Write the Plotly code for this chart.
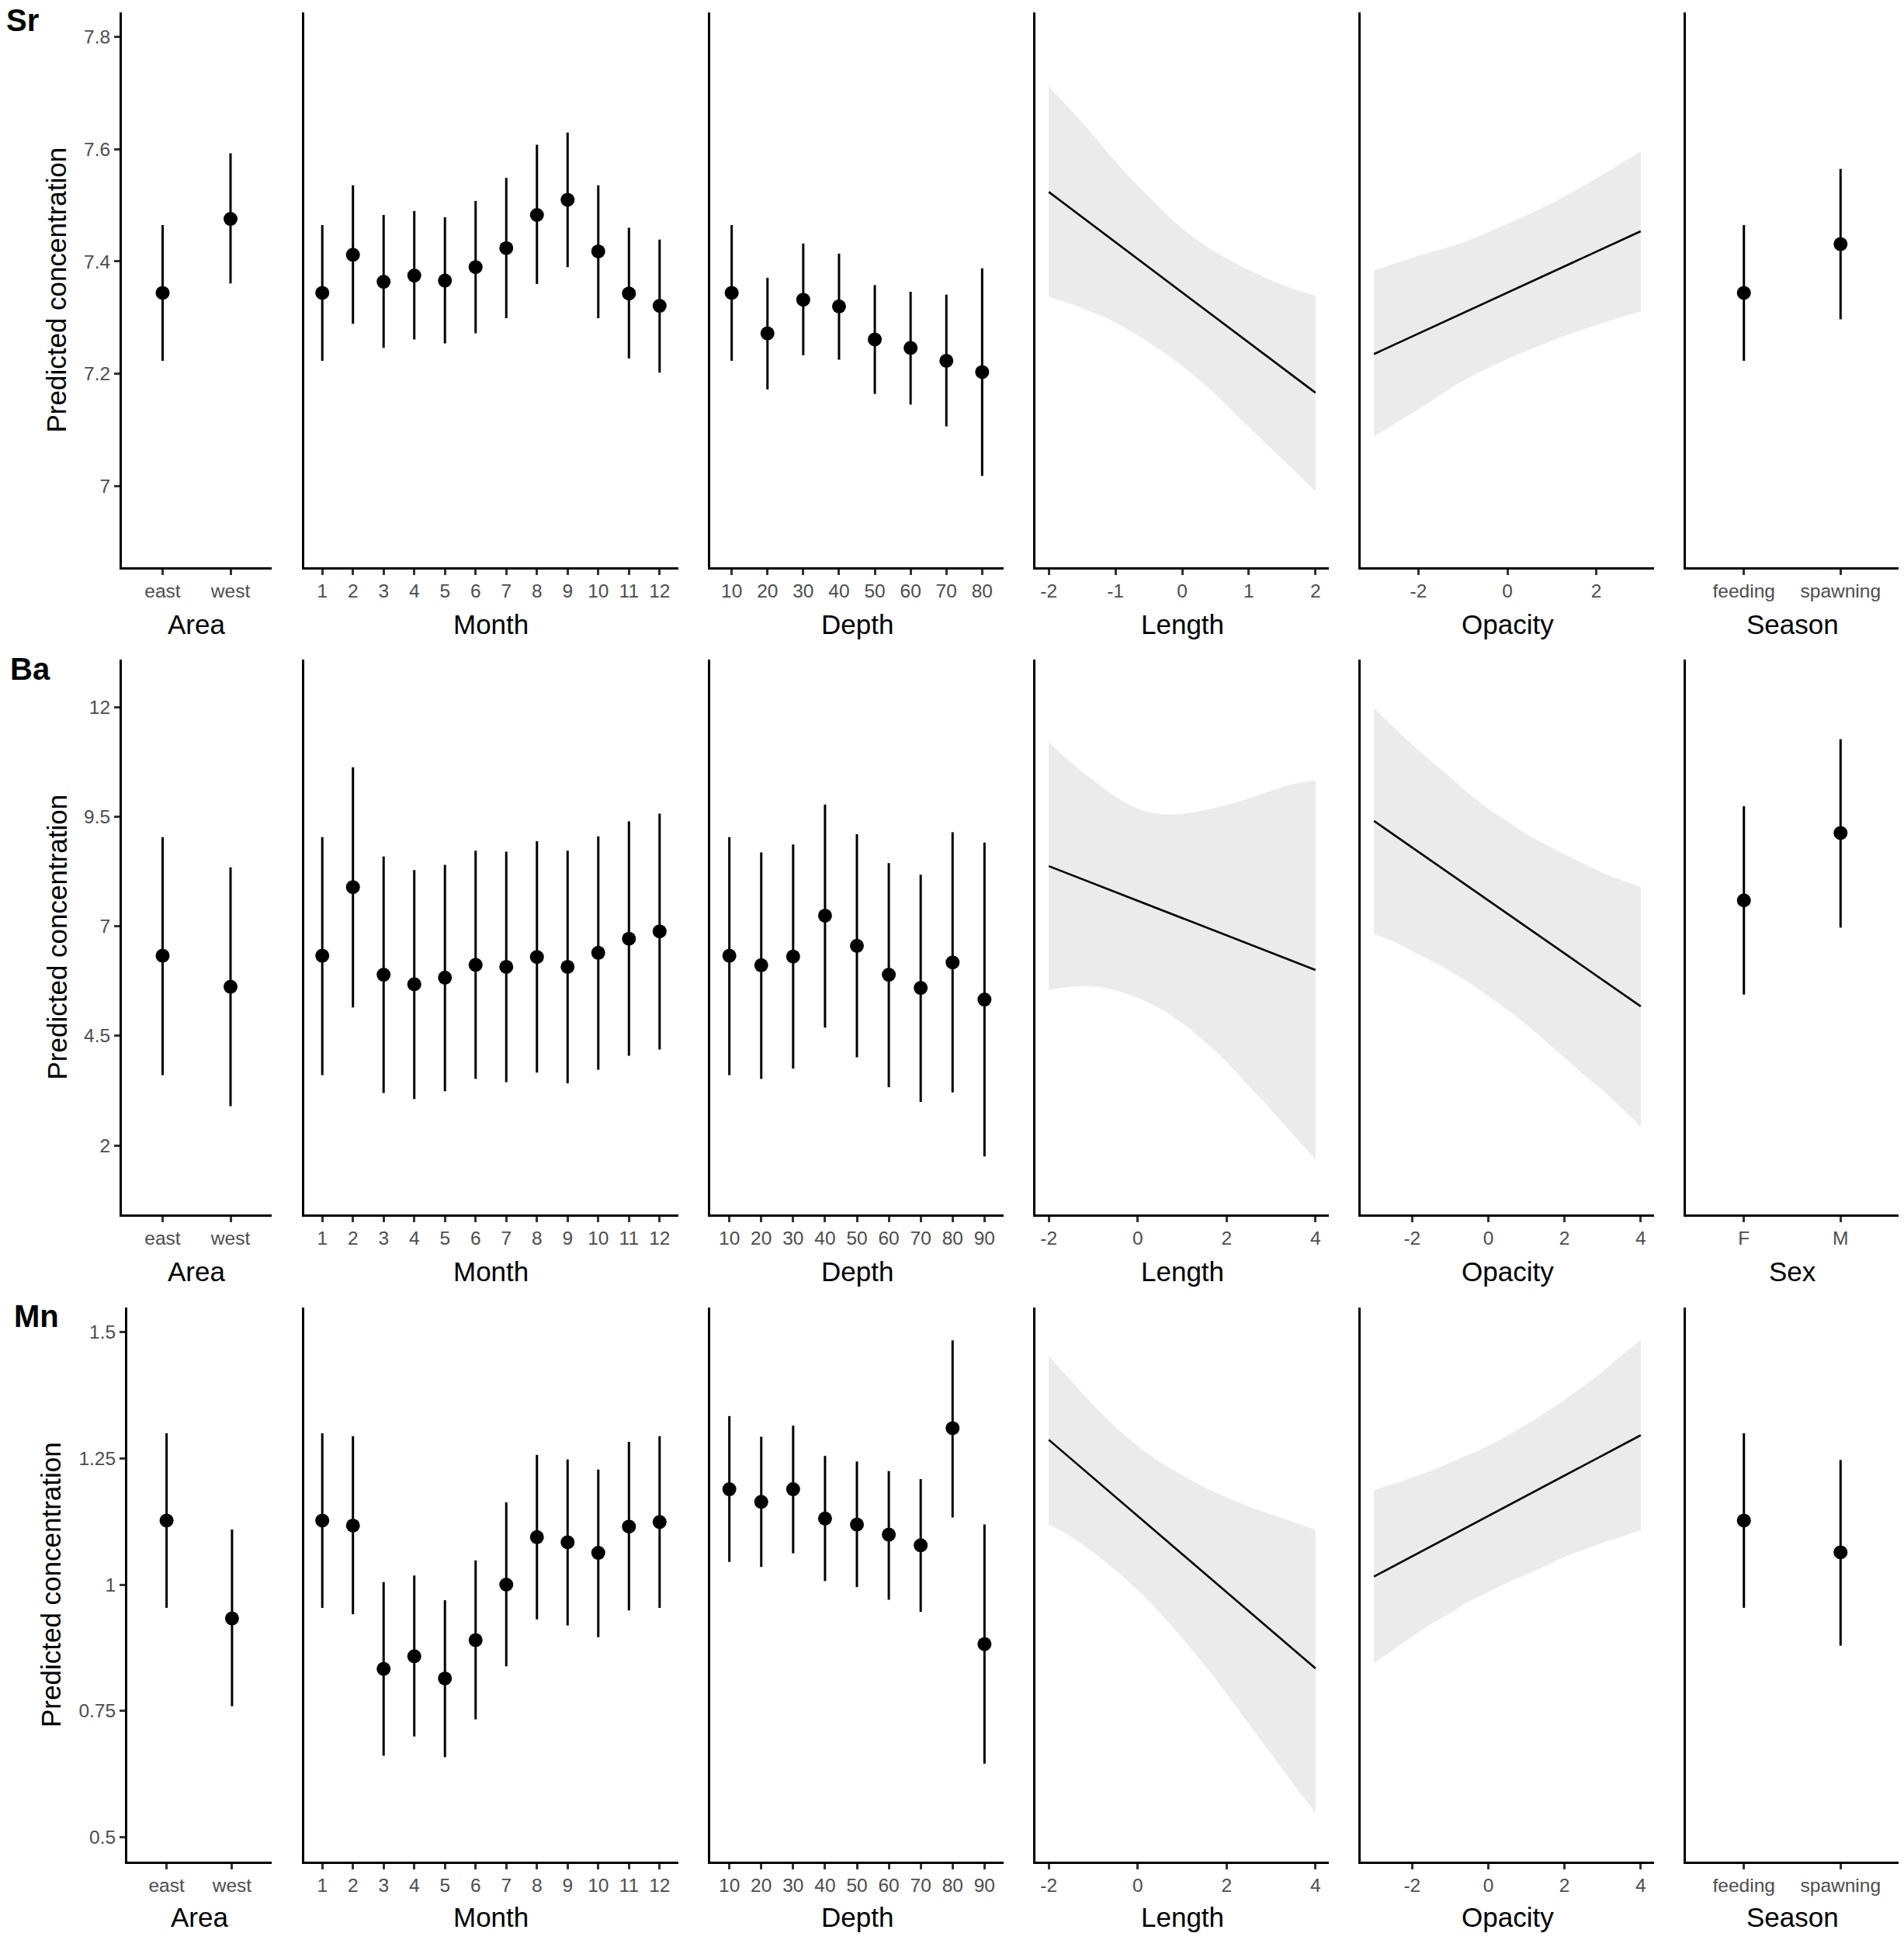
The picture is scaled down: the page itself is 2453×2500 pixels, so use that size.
import plotly.graph_objects as go

W, H = 2453, 2500
FONT = 'Liberation Sans, Arial, sans-serif'

# -----------------------------------------------
# Data: Sr
# -----------------------------------------------
area_cats = ['east', 'west']
month_cats = [str(m) for m in range(1, 13)]
depth_cats_sr = ['10', '20', '30', '40', '50', '60', '70', '80']
depth_cats = ['10', '20', '30', '40', '50', '60', '70', '80', '90']
season_cats = ['feeding', 'spawning']
sex_cats = ['F', 'M']

sr_area_est = [7.344, 7.476]
sr_area_lo = [7.223, 7.361]
sr_area_hi = [7.465, 7.593]

sr_month_est = [7.344, 7.412, 7.364, 7.375, 7.366, 7.390, 7.424, 7.483, 7.510, 7.418, 7.343, 7.321]
sr_month_lo = [7.223, 7.289, 7.246, 7.261, 7.254, 7.272, 7.299, 7.360, 7.390, 7.299, 7.227, 7.202]
sr_month_hi = [7.465, 7.536, 7.483, 7.490, 7.479, 7.508, 7.549, 7.608, 7.630, 7.536, 7.460, 7.439]

sr_depth_est = [7.344, 7.272, 7.332, 7.320, 7.261, 7.246, 7.223, 7.203]
sr_depth_lo = [7.223, 7.172, 7.233, 7.225, 7.164, 7.145, 7.106, 7.018]
sr_depth_hi = [7.465, 7.371, 7.432, 7.414, 7.358, 7.346, 7.341, 7.388]

sr_len_x = [-2, -1.5, -1, -0.5, 0, 0.5, 1, 1.5, 2]
sr_len_hi = [7.712, 7.648, 7.578, 7.515, 7.459, 7.417, 7.385, 7.358, 7.339]
sr_len_lo = [7.337, 7.317, 7.291, 7.256, 7.214, 7.163, 7.105, 7.048, 6.991]
sr_len_fit_x = [-2, 2]
sr_len_fit = [7.524, 7.166]

sr_opa_x = [-3, -2, -1, 0, 1, 2, 3]
sr_opa_hi = [7.384, 7.410, 7.434, 7.467, 7.504, 7.548, 7.596]
sr_opa_lo = [7.088, 7.137, 7.187, 7.226, 7.259, 7.287, 7.311]
sr_opa_fit_x = [-3, 3]
sr_opa_fit = [7.235, 7.454]

sr_season_est = [7.344, 7.431]
sr_season_lo = [7.223, 7.297]
sr_season_hi = [7.465, 7.565]

# -----------------------------------------------
# Data: Ba
# -----------------------------------------------
ba_area_est = [6.326, 5.619]
ba_area_lo = [3.602, 2.896]
ba_area_hi = [9.031, 8.343]

ba_month_est = [6.326, 7.891, 5.893, 5.676, 5.827, 6.119, 6.072, 6.298, 6.072, 6.392, 6.713, 6.882]
ba_month_lo = [3.602, 5.148, 3.197, 3.056, 3.235, 3.517, 3.442, 3.659, 3.414, 3.725, 4.045, 4.187]
ba_month_hi = [9.031, 10.624, 8.588, 8.277, 8.400, 8.720, 8.701, 8.937, 8.720, 9.050, 9.389, 9.568]

ba_depth_est = [6.326, 6.109, 6.307, 7.240, 6.552, 5.893, 5.591, 6.175, 5.327]
ba_depth_lo = [3.602, 3.517, 3.753, 4.686, 4.008, 3.329, 2.990, 3.207, 1.746]
ba_depth_hi = [9.031, 8.682, 8.861, 9.776, 9.097, 8.437, 8.173, 9.144, 8.908]

ba_len_x = [-2, -1.5, -1, -0.5, 0, 0.5, 1, 1.5, 2, 2.5, 3, 3.5, 4]
ba_len_hi = [11.196, 10.733, 10.326, 9.952, 9.680, 9.558, 9.564, 9.646, 9.768, 9.918, 10.088, 10.244, 10.319]
ba_len_lo = [5.554, 5.616, 5.629, 5.534, 5.364, 5.126, 4.786, 4.378, 3.903, 3.359, 2.815, 2.238, 1.673]
ba_len_fit_x = [-2, 4]
ba_len_fit = [8.37, 6.00]

ba_opa_x = [-3, -2.5, -2, -1.5, -1, -0.5, 0, 0.5, 1, 1.5, 2, 2.5, 3, 3.5, 4]
ba_opa_hi = [11.970, 11.549, 11.141, 10.768, 10.394, 10.020, 9.680, 9.395, 9.102, 8.864, 8.640, 8.423, 8.219, 8.049, 7.899]
ba_opa_lo = [6.825, 6.655, 6.431, 6.214, 5.975, 5.704, 5.398, 5.092, 4.752, 4.378, 4.005, 3.617, 3.257, 2.849, 2.428]
ba_opa_fit_x = [-3, 4]
ba_opa_fit = [9.40, 5.17]

ba_sex_est = [7.589, 9.125]
ba_sex_lo = [5.440, 6.967]
ba_sex_hi = [9.738, 11.265]

# -----------------------------------------------
# Data: Mn
# -----------------------------------------------
mn_area_est = [1.127, 0.933]
mn_area_lo = [0.954, 0.759]
mn_area_hi = [1.300, 1.109]

mn_month_est = [1.127, 1.117, 0.833, 0.858, 0.814, 0.890, 1.000, 1.094, 1.084, 1.063, 1.115, 1.124]
mn_month_lo = [0.954, 0.941, 0.661, 0.699, 0.658, 0.733, 0.838, 0.931, 0.919, 0.896, 0.949, 0.954]
mn_month_hi = [1.300, 1.294, 1.005, 1.018, 0.969, 1.048, 1.163, 1.257, 1.248, 1.228, 1.283, 1.294]

mn_depth_est = [1.189, 1.164, 1.189, 1.131, 1.119, 1.099, 1.078, 1.310, 0.882]
mn_depth_lo = [1.045, 1.035, 1.062, 1.007, 0.995, 0.970, 0.946, 1.133, 0.645]
mn_depth_hi = [1.334, 1.293, 1.315, 1.255, 1.244, 1.225, 1.209, 1.484, 1.119]

mn_len_x = [-2, -1.5, -1, -0.5, 0, 0.5, 1, 1.5, 2, 2.5, 3, 3.5, 4]
mn_len_hi = [1.453, 1.404, 1.356, 1.312, 1.275, 1.243, 1.217, 1.193, 1.173, 1.155, 1.139, 1.124, 1.108]
mn_len_lo = [1.119, 1.095, 1.064, 1.029, 0.989, 0.944, 0.894, 0.841, 0.784, 0.724, 0.665, 0.605, 0.548]
mn_len_fit_x = [-2, 4]
mn_len_fit = [1.287, 0.834]

mn_opa_x = [-3, -2.5, -2, -1.5, -1, -0.5, 0, 0.5, 1, 1.5, 2, 2.5, 3, 3.5, 4]
mn_opa_hi = [1.187, 1.199, 1.212, 1.226, 1.242, 1.258, 1.275, 1.295, 1.317, 1.341, 1.366, 1.393, 1.422, 1.454, 1.485]
mn_opa_lo = [0.844, 0.871, 0.897, 0.922, 0.944, 0.967, 0.985, 1.004, 1.020, 1.037, 1.055, 1.069, 1.083, 1.095, 1.108]
mn_opa_fit_x = [-3, 4]
mn_opa_fit = [1.016, 1.296]

mn_season_est = [1.127, 1.064]
mn_season_lo = [0.954, 0.879]
mn_season_hi = [1.300, 1.247]

# y axis ticks per element
y_ranges = {'Sr': [6.855, 7.844], 'Ba': [0.425, 13.08], 'Mn': [0.451, 1.549]}
y_ticks = {
    'Sr': ([7.0, 7.2, 7.4, 7.6, 7.8], ['7', '7.2', '7.4', '7.6', '7.8']),
    'Ba': ([2, 4.5, 7, 9.5, 12], ['2', '4.5', '7', '9.5', '12']),
    'Mn': ([0.5, 0.75, 1.0, 1.25, 1.5], ['0.5', '0.75', '1', '1.25', '1.5']),
}

# -----------------------------------------------
# Panel layout (pixels)
# -----------------------------------------------
row_px = {'Sr': (16, 731), 'Ba': (850, 1565), 'Mn': (1685, 2399)}
col_px = [(157, 349.5), (391.5, 873.5), (915, 1293), (1334, 1712), (1753, 2131), (2172, 2446)]
xtitle_y = {'Sr': 804, 'Ba': 1638, 'Mn': 2470}
ytitle_x = {'Sr': 72, 'Ba': 73, 'Mn': 65}
label_pos = {'Sr': (6, 26), 'Ba': (11, 862), 'Mn': (16, 1696)}

panels = {
    'Sr': [
        ('point', 'Area', area_cats, sr_area_est, sr_area_lo, sr_area_hi),
        ('point', 'Month', month_cats, sr_month_est, sr_month_lo, sr_month_hi),
        ('point', 'Depth', depth_cats_sr, sr_depth_est, sr_depth_lo, sr_depth_hi),
        ('ribbon', 'Length', sr_len_x, sr_len_lo, sr_len_hi, sr_len_fit_x, sr_len_fit,
         [-2.2, 2.2], [-2, -1, 0, 1, 2]),
        ('ribbon', 'Opacity', sr_opa_x, sr_opa_lo, sr_opa_hi, sr_opa_fit_x, sr_opa_fit,
         [-3.3, 3.3], [-2, 0, 2]),
        ('point', 'Season', season_cats, sr_season_est, sr_season_lo, sr_season_hi),
    ],
    'Ba': [
        ('point', 'Area', area_cats, ba_area_est, ba_area_lo, ba_area_hi),
        ('point', 'Month', month_cats, ba_month_est, ba_month_lo, ba_month_hi),
        ('point', 'Depth', depth_cats, ba_depth_est, ba_depth_lo, ba_depth_hi),
        ('ribbon', 'Length', ba_len_x, ba_len_lo, ba_len_hi, ba_len_fit_x, ba_len_fit,
         [-2.3, 4.3], [-2, 0, 2, 4]),
        ('ribbon', 'Opacity', ba_opa_x, ba_opa_lo, ba_opa_hi, ba_opa_fit_x, ba_opa_fit,
         [-3.35, 4.35], [-2, 0, 2, 4]),
        ('point', 'Sex', sex_cats, ba_sex_est, ba_sex_lo, ba_sex_hi),
    ],
    'Mn': [
        ('point', 'Area', area_cats, mn_area_est, mn_area_lo, mn_area_hi),
        ('point', 'Month', month_cats, mn_month_est, mn_month_lo, mn_month_hi),
        ('point', 'Depth', depth_cats, mn_depth_est, mn_depth_lo, mn_depth_hi),
        ('ribbon', 'Length', mn_len_x, mn_len_lo, mn_len_hi, mn_len_fit_x, mn_len_fit,
         [-2.3, 4.3], [-2, 0, 2, 4]),
        ('ribbon', 'Opacity', mn_opa_x, mn_opa_lo, mn_opa_hi, mn_opa_fit_x, mn_opa_fit,
         [-3.35, 4.35], [-2, 0, 2, 4]),
        ('point', 'Season', season_cats, mn_season_est, mn_season_lo, mn_season_hi),
    ],
}

fig = go.Figure()
axes = {}
annotations = []

axis_base = dict(
    showline=True, linecolor='black', linewidth=3,
    showgrid=False, zeroline=False, fixedrange=True,
    tickfont=dict(family=FONT, size=24.5, color='#4D4D4D'),
)

n = 0
for elem in ['Sr', 'Ba', 'Mn']:
    y0, y1 = row_px[elem]
    for c, spec in enumerate(panels[elem]):
        n += 1
        xa_name = 'xaxis' if n == 1 else f'xaxis{n}'
        ya_name = 'yaxis' if n == 1 else f'yaxis{n}'
        xref = 'x' if n == 1 else f'x{n}'
        yref = 'y' if n == 1 else f'y{n}'

        x0, x1 = col_px[c]
        if elem == 'Mn' and c == 0:
            x0 = 164

        xa = dict(axis_base, domain=[x0 / W, x1 / W], anchor=yref,
                  ticks='outside', ticklen=7, tickwidth=2.5, tickcolor='#333333')
        ya = dict(axis_base, domain=[1 - y1 / H, 1 - y0 / H], anchor=xref,
                  range=y_ranges[elem])
        if c == 0:
            ya.update(ticks='outside', ticklen=7, tickwidth=2.5, tickcolor='#333333',
                      tickvals=y_ticks[elem][0], ticktext=y_ticks[elem][1])
        else:
            ya.update(ticks='', showticklabels=False)

        kind, title = spec[0], spec[1]
        if kind == 'point':
            cats, est, lo, hi = spec[2], spec[3], spec[4], spec[5]
            xa.update(type='category', categoryorder='array', categoryarray=cats,
                      range=[-0.6, len(cats) - 0.4])
            fig.add_trace(go.Scatter(
                x=cats, y=est, mode='markers', xaxis=xref, yaxis=yref,
                marker=dict(color='black', size=18),
                error_y=dict(type='data', symmetric=False,
                             array=[h - e for h, e in zip(hi, est)],
                             arrayminus=[e - l for e, l in zip(est, lo)],
                             color='black', thickness=3, width=0),
                showlegend=False, hoverinfo='skip'
            ))
        else:
            xs, lo, hi, fx, fy, xr, xt = spec[2:]
            xa.update(range=xr, tickvals=xt, ticktext=[str(v) for v in xt])
            fig.add_trace(go.Scatter(
                x=xs, y=lo, mode='lines', xaxis=xref, yaxis=yref,
                line=dict(width=0, shape='spline', color='#EBEBEB'),
                showlegend=False, hoverinfo='skip'
            ))
            fig.add_trace(go.Scatter(
                x=xs, y=hi, mode='lines', xaxis=xref, yaxis=yref,
                fill='tonexty', fillcolor='#EBEBEB',
                line=dict(width=0, shape='spline', color='#EBEBEB'),
                showlegend=False, hoverinfo='skip'
            ))
            fig.add_trace(go.Scatter(
                x=fx, y=fy, mode='lines', xaxis=xref, yaxis=yref,
                line=dict(color='black', width=2.6),
                showlegend=False, hoverinfo='skip'
            ))

        axes[xa_name] = xa
        axes[ya_name] = ya

        # x axis title
        annotations.append(dict(
            text=title, xref='paper', yref='paper',
            x=(x0 + x1) / 2 / W, y=1 - xtitle_y[elem] / H,
            xanchor='center', yanchor='middle', showarrow=False,
            font=dict(family=FONT, size=35, color='black')
        ))

    # y axis title
    annotations.append(dict(
        text='Predicted concentration', xref='paper', yref='paper',
        x=ytitle_x[elem] / W, y=1 - (y0 + y1) / 2 / H,
        xanchor='center', yanchor='middle', textangle=-90, showarrow=False,
        font=dict(family=FONT, size=35, color='black')
    ))

    # row label
    lx, ly = label_pos[elem]
    annotations.append(dict(
        text=f'<b>{elem}</b>', xref='paper', yref='paper',
        x=lx / W, y=1 - ly / H, xanchor='left', yanchor='middle', showarrow=False,
        font=dict(family=FONT, size=40, color='black')
    ))

fig.update_layout(
    width=W, height=H,
    margin=dict(l=0, r=0, t=0, b=0),
    plot_bgcolor='white',
    paper_bgcolor='white',
    showlegend=False,
    annotations=annotations,
    **axes
)

# page margin off so the figure sits at the top-left corner
fig.write_html('out.html', config={'displayModeBar': False},
               post_script="document.body.style.margin='0';")
print("Salvo: out.html")
